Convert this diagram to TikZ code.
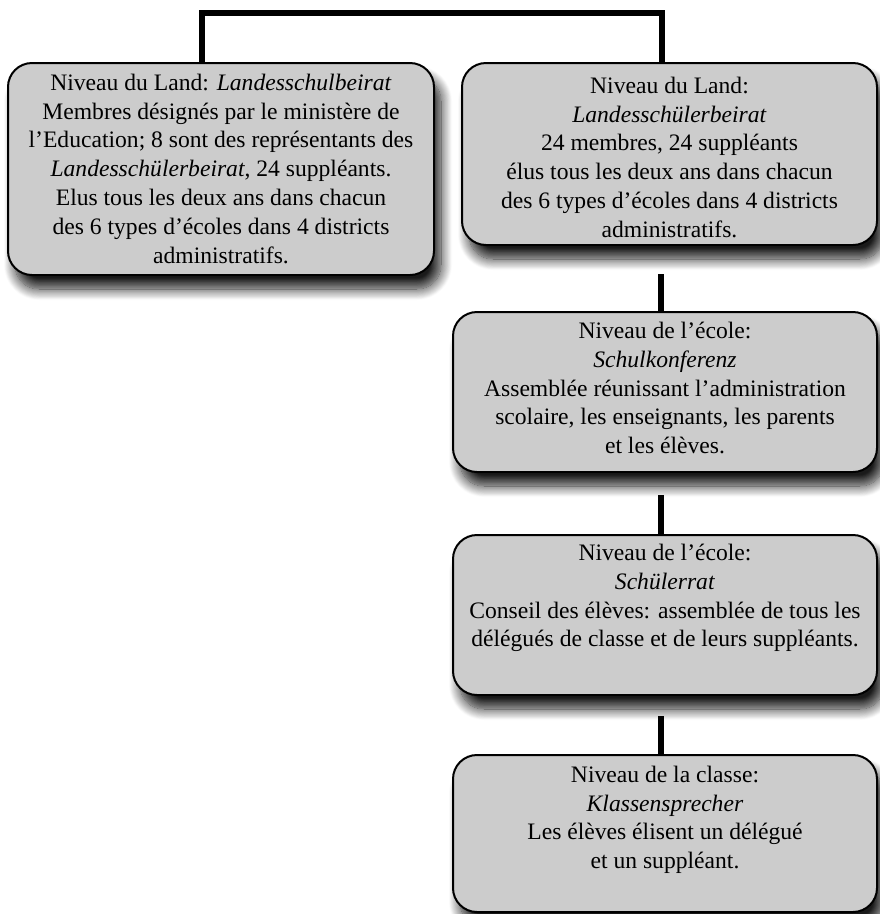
\documentclass[tikz,border=0pt]{standalone}
\usepackage{fontspec}
\setmainfont{Liberation Serif}
\usetikzlibrary{shadows.blur}
\definecolor{boxgray}{HTML}{CCCCCC}
\tikzset{
  orgbox/.style={draw=black, line width=2pt, fill=boxgray, rounded corners=24pt, inner sep=0pt,
    blur shadow={shadow xshift=7pt, shadow yshift=-14pt, shadow blur radius=11pt, shadow opacity=90, shadow blur steps=14}},
  conn/.style={line width=6pt, draw=black}
}
\newcommand{\boxcontent}[4]{\parbox[c][#2pt][t]{#1pt}{\centering\fontsize{23.6}{28.8}\selectfont\vspace*{#3pt}#4\par}}
\begin{document}
\begin{tikzpicture}[x=1pt,y=-1pt]
\useasboundingbox (0,0) rectangle (880,914);
\node[orgbox] (b1) at (221,169) {\boxcontent{426}{212}{11}{Niveau du Land: \textit{Landesschulbeirat}\\
Membres désignés par le ministère de\\
l’Education; 8 sont des représentants des\\
\textit{Landesschülerbeirat}, 24 suppléants.\\
Elus tous les deux ans dans chacun\\
des 6 types d’écoles dans 4 districts\\
administratifs.}};
\node[orgbox] (b2) at (669.5,154) {\boxcontent{415}{182}{14}{Niveau du Land:\\
\textit{Landesschülerbeirat}\\
24 membres, 24 suppléants\\
élus tous les deux ans dans chacun\\
des 6 types d’écoles dans 4 districts\\
administratifs.}};
\node[orgbox] (b3) at (665,392) {\boxcontent{424}{160}{10}{Niveau de l’école:\\
\textit{Schulkonferenz}\\
Assemblée réunissant l’administration\\
scolaire, les enseignants, les parents\\
et les élèves.}};
\node[orgbox] (b4) at (665,615) {\boxcontent{424}{160}{9}{Niveau de l’école:\\
\textit{Schülerrat}\\
Conseil des élèves: assemblée de tous les\\
délégués de classe et de leurs suppléants.}};
\node[orgbox] (b5) at (665,833.5) {\boxcontent{424}{157}{11}{Niveau de la classe:\\
\textit{Klassensprecher}\\
Les élèves élisent un délégué\\
et un suppléant.}};
\coordinate (topbar) at (430,13);
\draw[conn] ([xshift=-19pt]b1.north) |- (topbar) -| ([xshift=-7.5pt]b2.north);
\coordinate (c23) at (661,274);
\draw[conn] (c23) -- (c23 |- b3.north);
\coordinate (c34) at (661,495);
\draw[conn] (c34) -- (c34 |- b4.north);
\coordinate (c45) at (661,716);
\draw[conn] (c45) -- (c45 |- b5.north);
\end{tikzpicture}
\end{document}
